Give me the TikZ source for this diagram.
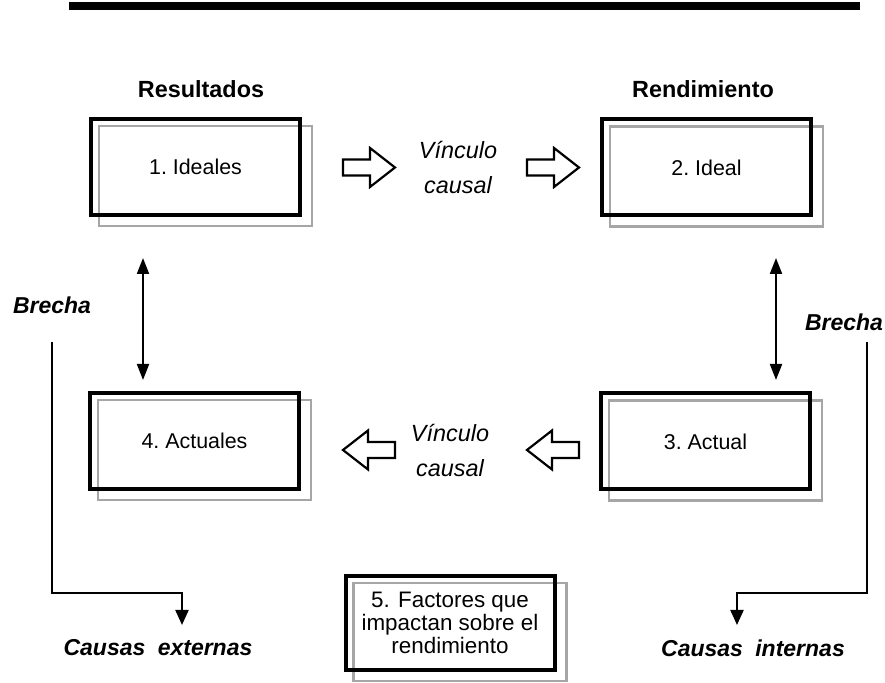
\documentclass[tikz,border=0pt]{standalone}
\usepackage{fontspec}
\setmainfont{Liberation Sans}
\usetikzlibrary{arrows.meta,backgrounds}

\tikzset{
	caja/.style={draw=black, line width=2pt, minimum width=104.5pt, minimum height=48pt,
		inner sep=0pt, align=center, font=\fontsize{10.7}{12}\selectfont},
	sombra/.style={draw=gray!70, line width=1.1pt},
	titulo/.style={font=\bfseries\fontsize{11.7}{14}\selectfont},
	brecha/.style={font=\bfseries\itshape\fontsize{11.5}{14}\selectfont},
	vinculo/.style={align=center, font=\itshape\fontsize{11.7}{17.5}\selectfont},
	flechabloque/.style={draw=black, line width=1.1pt, fill=white, line join=miter},
	doble/.style={line width=1pt, {Triangle[length=8pt,width=6pt]}-{Triangle[length=8pt,width=6pt]}},
	conector/.style={line width=1pt, -{Triangle[length=7.5pt,width=6.5pt]}},
	pics/flecha/.style={code={
		\draw[flechabloque] (0,-8) -- (27,-8) -- (27,-19.5) -- (52,0) -- (27,19.5) -- (27,8) -- (0,8) -- cycle;
	}}
}

\begin{document}
\begin{tikzpicture}[x=0.5pt, y=-0.5pt]
	\useasboundingbox (0,0) rectangle (885,683);

	% Linea superior
	\draw[line width=4pt] (69,6) -- (860,6);

	% Titulos
	\node[titulo](resultados) at (201,89) {Resultados};
	\node[titulo](rendimiento) at (703,89) {Rendimiento};

	% Cajas
	\node[caja](ideales) at (195.5,167) {1.\ Ideales};
	\node[caja](ideal) at (706.5,167.5) {2.\ Ideal};
	\node[caja](actual) at (705.5,441.5) {3.\ Actual};
	\node[caja](actuales) at (194.5,441) {4.\ Actuales};
	\node[caja, minimum height=47pt, font=\fontsize{11.2}{10.4}\selectfont](factores) at (450,623)
		{5. Factores que\\impactan sobre el\\rendimiento};

	\begin{scope}[on background layer]
	\foreach \n in {ideales,ideal,actual,actuales,factores}
	{
	\draw[sombra] ([shift={(5pt,-4.5pt)}]\n.south west) rectangle ([shift={(5pt,-4.5pt)}]\n.north east);
	}
	\end{scope}

	% Vinculo causal
	\node[vinculo](vinculoA) at (458,167.5) {Vínculo\\causal};
	\node[vinculo](vinculoB) at (450,450.5) {Vínculo\\causal};

	\pic at (343,167.5) {flecha};
	\pic at (527,167.5) {flecha};
	\pic[xscale=-1] at (395,450) {flecha};
	\pic[xscale=-1] at (579,450) {flecha};

	% Brechas
	\coordinate[](b1) at (143,258);
	\coordinate[](b2) at (143,380);
	\coordinate[](b3) at (776,258);
	\coordinate[](b4) at (776,380);
	\draw[doble] (b1) -- (b2);
	\draw[doble] (b3) -- (b4);

	\node[brecha](brechaA) at (52,305) {Brecha};
	\node[brecha](brechaB) at (844,322) {Brecha};

	% Causas
	\node[brecha](externas) at (158,648) {Causas\hspace{3pt} externas};
	\node[brecha](internas) at (753,648) {Causas\hspace{3pt} internas};

	\coordinate[](e0) at (52,342);
	\coordinate[](e1) at (182,625);
	\coordinate[](i0) at (867,342);
	\coordinate[](i1) at (737,625);
	\draw[conector] (e0) |- (182,593) -- (e1);
	\draw[conector] (i0) |- (737,593) -- (i1);

\end{tikzpicture}
\end{document}
